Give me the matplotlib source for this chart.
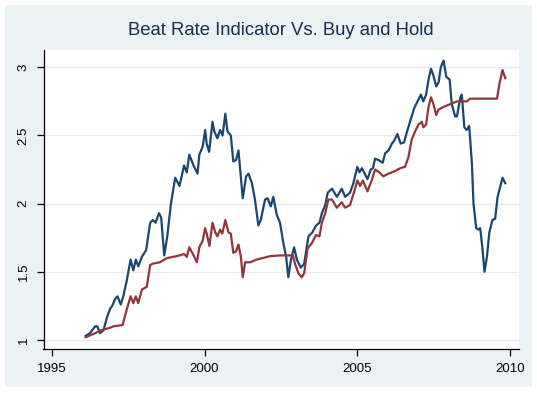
import matplotlib
matplotlib.use("Agg")
import matplotlib.pyplot as plt
from matplotlib.patches import Rectangle

plt.rcParams['font.family'] = ['Liberation Sans', 'DejaVu Sans']

title = "Beat Rate Indicator Vs. Buy and Hold"
x_ticks = [1995, 2000, 2005, 2010]
y_ticks = [1, 1.5, 2, 2.5, 3]
y_tick_labels = ["1", "1.5", "2", "2.5", "3"]

# Beat Rate Indicator (navy)
beat_years = [1996.11, 1996.25, 1996.42, 1996.49, 1996.58, 1996.69, 1996.80, 1996.91, 1996.98,
              1997.07, 1997.15, 1997.26, 1997.34, 1997.45, 1997.58, 1997.67, 1997.75, 1997.83,
              1997.95, 1998.09, 1998.22, 1998.31, 1998.40, 1998.51, 1998.58, 1998.68, 1998.78,
              1998.90, 1999.04, 1999.18, 1999.33, 1999.42, 1999.50, 1999.64, 1999.77, 1999.83,
              1999.94, 2000.02, 2000.07, 2000.15, 2000.26, 2000.32, 2000.42, 2000.51, 2000.59,
              2000.68, 2000.75, 2000.86, 2000.94, 2001.03, 2001.11, 2001.25, 2001.36, 2001.44,
              2001.55, 2001.65, 2001.76, 2001.84, 2001.98, 2002.06, 2002.17, 2002.25, 2002.36,
              2002.47, 2002.58, 2002.67, 2002.74, 2002.83, 2002.93, 2003.02, 2003.15, 2003.26,
              2003.40, 2003.53, 2003.65, 2003.76, 2003.84, 2003.95, 2004.03, 2004.17, 2004.33,
              2004.49, 2004.60, 2004.76, 2004.87, 2005.00, 2005.07, 2005.15, 2005.26, 2005.33,
              2005.44, 2005.51, 2005.58, 2005.69, 2005.83, 2005.91, 2006.02, 2006.13, 2006.20,
              2006.31, 2006.42, 2006.53, 2006.64, 2006.75, 2006.86, 2006.97, 2007.08, 2007.16,
              2007.25, 2007.33, 2007.41, 2007.49, 2007.58, 2007.66, 2007.73, 2007.82, 2007.91,
              2008.02, 2008.09, 2008.20, 2008.26, 2008.37, 2008.42, 2008.50, 2008.58, 2008.66,
              2008.75, 2008.80, 2008.89, 2008.96, 2009.02, 2009.09, 2009.16, 2009.24, 2009.32,
              2009.42, 2009.51, 2009.59, 2009.67, 2009.75, 2009.84]
beat_values = [1.03, 1.05, 1.10, 1.10, 1.05, 1.07, 1.16, 1.23, 1.25,
               1.30, 1.32, 1.26, 1.32, 1.43, 1.59, 1.51, 1.59, 1.54,
               1.61, 1.66, 1.86, 1.88, 1.86, 1.93, 1.90, 1.62, 1.76,
               2.00, 2.19, 2.13, 2.28, 2.23, 2.36, 2.28, 2.22, 2.36,
               2.42, 2.54, 2.44, 2.38, 2.60, 2.53, 2.48, 2.54, 2.50,
               2.66, 2.53, 2.50, 2.31, 2.32, 2.39, 2.04, 2.20, 2.22,
               2.15, 2.03, 1.84, 1.88, 2.03, 2.04, 1.98, 2.05, 1.92,
               1.86, 1.71, 1.61, 1.46, 1.59, 1.68, 1.59, 1.53, 1.56,
               1.76, 1.79, 1.84, 1.86, 1.93, 1.99, 2.08, 2.11, 2.05,
               2.11, 2.05, 2.08, 2.15, 2.27, 2.23, 2.26, 2.21, 2.18,
               2.25, 2.26, 2.33, 2.32, 2.30, 2.37, 2.39, 2.44, 2.46,
               2.51, 2.44, 2.45, 2.54, 2.62, 2.70, 2.75, 2.80, 2.75,
               2.80, 2.91, 2.99, 2.94, 2.86, 2.89, 3.00, 3.05, 2.93,
               2.91, 2.73, 2.64, 2.64, 2.78, 2.80, 2.56, 2.54, 2.57,
               2.29, 2.00, 1.82, 1.81, 1.82, 1.68, 1.50, 1.61, 1.79,
               1.88, 1.89, 2.05, 2.12, 2.19, 2.15]

# Buy and Hold (maroon)
hold_years = [1996.11, 1996.42, 1996.60, 1996.91, 1997.02, 1997.32, 1997.45, 1997.58, 1997.67,
              1997.75, 1997.83, 1997.95, 1998.11, 1998.22, 1998.31, 1998.54, 1998.76, 1999.09,
              1999.33, 1999.42, 1999.50, 1999.62, 1999.75, 1999.83, 1999.94, 2000.02, 2000.07,
              2000.16, 2000.26, 2000.35, 2000.42, 2000.51, 2000.58, 2000.68, 2000.78, 2000.86,
              2000.94, 2001.03, 2001.11, 2001.19, 2001.25, 2001.33, 2001.49, 2001.71, 2002.15,
              2002.47, 2002.89, 2002.96, 2003.07, 2003.18, 2003.26, 2003.37, 2003.51, 2003.65,
              2003.76, 2003.84, 2003.95, 2004.05, 2004.17, 2004.33, 2004.49, 2004.60, 2004.76,
              2004.90, 2005.00, 2005.09, 2005.18, 2005.33, 2005.47, 2005.58, 2005.72, 2005.85,
              2006.02, 2006.24, 2006.40, 2006.56, 2006.67, 2006.78, 2006.89, 2007.00, 2007.11,
              2007.16, 2007.25, 2007.33, 2007.41, 2007.49, 2007.58, 2007.66, 2007.82, 2008.04,
              2008.26, 2008.58, 2008.69, 2008.91, 2009.57, 2009.65, 2009.75, 2009.84]
hold_values = [1.02, 1.05, 1.07, 1.09, 1.10, 1.11, 1.22, 1.32, 1.27,
               1.32, 1.27, 1.37, 1.39, 1.55, 1.56, 1.57, 1.60, 1.615,
               1.63, 1.61, 1.68, 1.63, 1.57, 1.68, 1.73, 1.82, 1.78,
               1.69, 1.86, 1.79, 1.76, 1.81, 1.78, 1.88, 1.79, 1.78,
               1.64, 1.65, 1.70, 1.61, 1.46, 1.57, 1.57, 1.59, 1.615,
               1.62, 1.62, 1.56, 1.49, 1.46, 1.49, 1.67, 1.71, 1.77,
               1.76, 1.86, 1.93, 2.03, 2.03, 1.97, 2.01, 1.97, 1.99,
               2.09, 2.17, 2.13, 2.17, 2.09, 2.17, 2.25, 2.23, 2.20,
               2.22, 2.24, 2.26, 2.27, 2.34, 2.47, 2.53, 2.58, 2.60,
               2.56, 2.58, 2.71, 2.78, 2.73, 2.65, 2.69, 2.71, 2.73,
               2.75, 2.75, 2.77, 2.77, 2.77, 2.88, 2.98, 2.92]

W, H = 537, 393
fig = plt.figure(figsize=(W / 100, H / 100), dpi=100)
fig.patch.set_facecolor('white')
bg = Rectangle((5 / W, 6 / H), 527 / W, 382 / H, transform=fig.transFigure,
               facecolor='#EAF2F3', edgecolor='none', zorder=-10)
fig.patches.append(bg)

ax = fig.add_axes([43.5 / W, (H - 348.7) / H, (518.7 - 43.5) / W, (348.7 - 50) / H])
ax.set_zorder(5)
ax.set_facecolor('white')

ax.plot(beat_years, beat_values, color='#1A476F', lw=1.6, zorder=3)
ax.plot(hold_years, hold_values, color='#90353B', lw=1.6, zorder=3)

ax.set_xlim(1994.73, 2010.28)
ax.set_ylim(0.936, 3.127)
ax.set_xticks(x_ticks)
ax.set_xticklabels([str(t) for t in x_ticks])
ax.set_yticks(y_ticks)
ax.set_yticklabels(y_tick_labels, rotation=90, va='center')
ax.tick_params(axis='both', direction='out', length=5, width=0.9, color='black',
               labelsize=9.5, labelcolor='black', pad=5)
ax.grid(axis='y', color='#EAEAEA', lw=0.9, zorder=1)
ax.grid(axis='x', visible=False)
for s in ['top', 'right']:
    ax.spines[s].set_visible(False)
for s in ['left', 'bottom']:
    ax.spines[s].set_color('black')
    ax.spines[s].set_linewidth(0.9)

fig.text(281 / W, (H - 35) / H, title, ha='center', va='baseline',
         fontsize=13.3, color='#1C2B4E')

fig.savefig('out.png', dpi=100, facecolor=fig.get_facecolor())
